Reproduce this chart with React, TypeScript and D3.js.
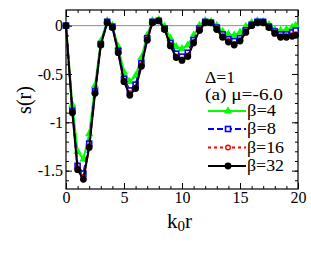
import { useEffect, useRef } from "react";
import * as d3 from "d3";

const kr = [
  0, 0.55, 1.0, 1.5, 2.0, 2.5, 3.0, 3.55, 4.0, 4.5, 5.0, 5.5, 6.0, 6.5, 7.0, 7.45, 8.0, 8.5,
  9.0, 9.5, 10.0, 10.5, 11.0, 11.5, 12.0, 12.5, 13.0, 13.5, 14.0, 14.5, 15.0, 15.5, 16.0,
  16.5, 17.0, 17.5, 18.0, 18.5, 19.0, 19.5, 19.8,
];

const beta4 = [
  0, -0.82, -1.3, -1.38, -1.12, -0.62, -0.16, 0.05, 0.0, -0.22, -0.48, -0.58, -0.52, -0.33,
  -0.1, 0.05, 0.06, -0.01, -0.13, -0.22, -0.24, -0.2, -0.1, 0.0, 0.05, 0.04, 0.0, -0.06,
  -0.09, -0.1, -0.07, -0.01, 0.03, 0.05, 0.04, 0.01, -0.04, -0.05, -0.04, -0.02, 0.0,
];
const beta8 = [
  0, -0.88, -1.45, -1.53, -1.22, -0.68, -0.19, 0.04, -0.01, -0.26, -0.55, -0.67, -0.61,
  -0.39, -0.13, 0.04, 0.05, -0.03, -0.18, -0.29, -0.32, -0.28, -0.15, -0.03, 0.04, 0.03,
  -0.02, -0.09, -0.14, -0.16, -0.13, -0.05, 0.01, 0.04, 0.04, -0.01, -0.06, -0.09, -0.09,
  -0.07, -0.05,
];
const beta16 = [
  0, -0.89, -1.48, -1.57, -1.25, -0.7, -0.2, 0.03, -0.02, -0.27, -0.57, -0.7, -0.64, -0.41,
  -0.14, 0.03, 0.05, -0.04, -0.2, -0.32, -0.35, -0.31, -0.17, -0.04, 0.03, 0.03, -0.03,
  -0.11, -0.16, -0.19, -0.15, -0.06, 0.0, 0.03, 0.03, -0.02, -0.07, -0.11, -0.11, -0.1,
  -0.09,
];
const beta32 = [
  0, -0.9, -1.49, -1.59, -1.26, -0.7, -0.2, 0.03, -0.02, -0.28, -0.58, -0.72, -0.65, -0.42,
  -0.15, 0.03, 0.05, -0.04, -0.21, -0.33, -0.36, -0.32, -0.18, -0.05, 0.03, 0.03, -0.04,
  -0.12, -0.17, -0.2, -0.16, -0.07, 0.0, 0.03, 0.03, -0.02, -0.08, -0.12, -0.12, -0.11,
  -0.1,
];

const seriesLabels = ["β=4", "β=8", "β=16", "β=32"];
const xTicks = [0, 5, 10, 15, 20];
const yTicks = [0, -0.5, -1, -1.5];

const W = 311;
const H = 265;
const margin = { top: 10, right: 13, bottom: 76, left: 66 };
const FONT = "Liberation Serif, Tinos, Times New Roman, Times, DejaVu Serif, serif";

const styles = [
  { color: "#00ff00", dash: null, marker: "triangle" },
  { color: "#0000ff", dash: "6,3", marker: "square" },
  { color: "#ff0000", dash: "3,3", marker: "circleOpen" },
  { color: "#000000", dash: null, marker: "circle" },
];

export default function App() {
  const svgRef = useRef<SVGSVGElement>(null);

  useEffect(() => {
    if (!svgRef.current) return;
    const svg = d3.select(svgRef.current);
    svg.selectAll("*").remove();

    const innerW = W - margin.left - margin.right;
    const innerH = H - margin.top - margin.bottom;

    const x = d3.scaleLinear().domain([0, 20]).range([0, innerW]);
    const y = d3.scaleLinear().domain([-1.69, 0.162]).range([innerH, 0]);

    const g = svg
      .append("g")
      .attr("transform", `translate(${margin.left},${margin.top})`);

    // zero line
    g.append("line")
      .attr("x1", 0)
      .attr("x2", innerW)
      .attr("y1", y(0))
      .attr("y2", y(0))
      .attr("stroke", "#8c8c8c")
      .attr("stroke-width", 1);

    // ticks on all four sides, pointing inward
    const xMinor = d3.range(0, 20.01, 1);
    const yMinor = d3.range(-1.6, 0.15, 0.1);

    const drawX = (ty: number, bottom: boolean) => {
      const mk = () => (bottom ? d3.axisBottom(x) : d3.axisTop(x));
      g.append("g")
        .attr("transform", `translate(0,${ty})`)
        .call(mk().tickValues(xMinor).tickSize(-3).tickFormat(() => ""));
      g.append("g")
        .attr("transform", `translate(0,${ty})`)
        .call(
          mk()
            .tickValues(xTicks)
            .tickSize(-6)
            .tickPadding(3)
            .tickFormat((d) => (bottom ? `${d}` : ""))
        );
    };
    const drawY = (tx: number, left: boolean) => {
      const mk = () => (left ? d3.axisLeft(y) : d3.axisRight(y));
      g.append("g")
        .attr("transform", `translate(${tx},0)`)
        .call(mk().tickValues(yMinor).tickSize(-3).tickFormat(() => ""));
      g.append("g")
        .attr("transform", `translate(${tx},0)`)
        .call(
          mk()
            .tickValues(yTicks)
            .tickSize(-6)
            .tickPadding(3)
            .tickFormat((d) => (left ? `${d}` : ""))
        );
    };
    drawX(innerH, true);
    drawX(0, false);
    drawY(0, true);
    drawY(innerW, false);

    g.selectAll(".domain").remove();
    g.selectAll(".tick line").attr("stroke", "#000").attr("stroke-width", 1);
    g.selectAll(".tick text")
      .attr("font-family", FONT)
      .attr("font-size", 16)
      .attr("fill", "#000");

    g.append("rect")
      .attr("x", 0)
      .attr("y", 0)
      .attr("width", innerW)
      .attr("height", innerH)
      .attr("fill", "none")
      .attr("stroke", "#000")
      .attr("stroke-width", 1.2);

    const all = [beta4, beta8, beta16, beta32];
    const line = d3
      .line<number>()
      .x((_, i) => x(kr[i]))
      .y((d) => y(d));

    const drawMarker = (
      sel: d3.Selection<SVGGElement, unknown, null, undefined>,
      px: number,
      py: number,
      kind: string,
      color: string
    ) => {
      if (kind === "triangle") {
        sel
          .append("path")
          .attr("d", d3.symbol(d3.symbolTriangle, 30)())
          .attr("transform", `translate(${px},${py})`)
          .attr("fill", color);
      } else if (kind === "square") {
        sel
          .append("rect")
          .attr("x", px - 2.5)
          .attr("y", py - 2.5)
          .attr("width", 5)
          .attr("height", 5)
          .attr("fill", "#fff")
          .attr("stroke", color)
          .attr("stroke-width", 1.6);
      } else if (kind === "circleOpen") {
        sel
          .append("circle")
          .attr("cx", px)
          .attr("cy", py)
          .attr("r", 2.3)
          .attr("fill", "#fff")
          .attr("stroke", color)
          .attr("stroke-width", 1.4);
      } else {
        sel
          .append("circle")
          .attr("cx", px)
          .attr("cy", py)
          .attr("r", 3.4)
          .attr("fill", color);
      }
    };

    all.forEach((vals, si) => {
      const st = styles[si];
      const sg = g.append("g");
      sg.append("path")
        .datum(vals)
        .attr("d", line)
        .attr("fill", "none")
        .attr("stroke", st.color)
        .attr("stroke-width", 2)
        .attr("stroke-dasharray", st.dash);
      vals.forEach((v, i) => drawMarker(sg, x(kr[i]), y(v), st.marker, st.color));
    });

    // annotations (fixed widths so the sans fallback keeps the reference layout)
    const txt = svg.append("g").attr("font-family", FONT).attr("fill", "#000");
    txt.append("text")
      .attr("x", 205)
      .attr("y", 83)
      .attr("font-size", 16)
      .attr("textLength", 30)
      .attr("lengthAdjust", "spacingAndGlyphs")
      .text("Δ=1");
    txt.append("text")
      .attr("x", 205)
      .attr("y", 100)
      .attr("font-size", 16)
      .attr("textLength", 78)
      .attr("lengthAdjust", "spacingAndGlyphs")
      .text("(a) μ=-6.0");

    // legend
    const legY = [116, 134, 152.5, 171];
    const legW = [29, 29, 37, 37];
    seriesLabels.forEach((lab, i) => {
      const st = styles[i];
      const lg = svg.append("g");
      lg.append("line")
        .attr("x1", 208)
        .attr("x2", 246)
        .attr("y1", legY[i] - 5)
        .attr("y2", legY[i] - 5)
        .attr("stroke", st.color)
        .attr("stroke-width", 2)
        .attr("stroke-dasharray", st.dash);
      drawMarker(lg, 228, legY[i] - 5, st.marker, st.color);
      lg.append("text")
        .attr("x", 247)
        .attr("y", legY[i])
        .attr("font-family", FONT)
        .attr("font-size", 16)
        .attr("textLength", legW[i])
        .attr("lengthAdjust", "spacingAndGlyphs")
        .text(lab);
    });

    // axis titles
    svg
      .append("text")
      .attr("transform", `translate(31,100) rotate(-90)`)
      .attr("text-anchor", "middle")
      .attr("font-family", FONT)
      .attr("font-size", 20)
      .text("s(r)");

    const xt = svg
      .append("text")
      .attr("x", 167)
      .attr("y", 228)
      .attr("font-family", FONT)
      .attr("font-size", 21);
    xt.append("tspan").text("k");
    xt.append("tspan").attr("font-size", 15).attr("dy", 3).text("0");
    xt.append("tspan").attr("dy", -3).text("r");
  }, []);

  return (
    <svg
      ref={svgRef}
      width={W}
      height={H}
      style={{ position: "absolute", left: 0, top: 0, background: "#fff" }}
    />
  );
}
